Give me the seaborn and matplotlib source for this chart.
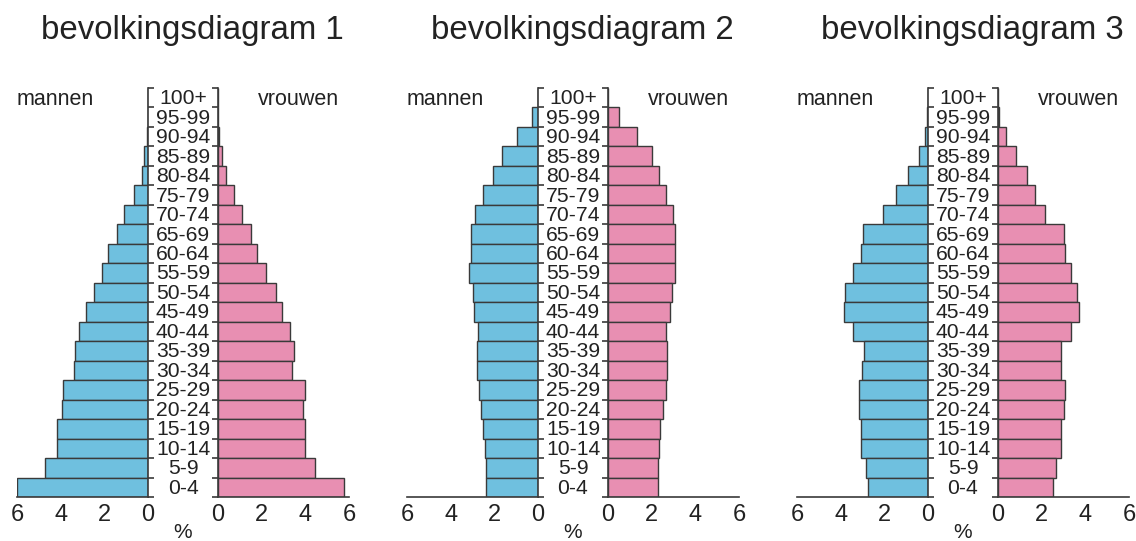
import numpy as np
import pandas as pd
import matplotlib
matplotlib.use("Agg")
import matplotlib.pyplot as plt
import matplotlib.transforms as mtransforms
import seaborn as sns

# age groups, top to bottom
ages = ["100+", "95-99", "90-94", "85-89", "80-84", "75-79", "70-74", "65-69",
        "60-64", "55-59", "50-54", "45-49", "40-44", "35-39", "30-34", "25-29",
        "20-24", "15-19", "10-14", "5-9", "0-4"]

# % of population per diagram
men_1 = [0, 0, 0.03, 0.17, 0.29, 0.66, 1.1, 1.42, 1.82, 2.1, 2.46, 2.82, 3.15,
         3.33, 3.39, 3.88, 3.94, 4.15, 4.15, 4.7, 5.98]
women_1 = [0, 0, 0.05, 0.17, 0.35, 0.75, 1.12, 1.5, 1.8, 2.18, 2.66, 2.94, 3.29,
           3.49, 3.4, 3.97, 3.88, 3.97, 3.97, 4.45, 5.78]
men_2 = [0, 0.26, 0.98, 1.63, 2.05, 2.51, 2.89, 3.08, 3.08, 3.18, 2.98, 2.91,
         2.77, 2.8, 2.8, 2.72, 2.63, 2.52, 2.45, 2.37, 2.37]
women_2 = [0, 0.49, 1.32, 2.03, 2.35, 2.66, 2.98, 3.09, 3.06, 3.09, 2.91, 2.82,
           2.66, 2.72, 2.71, 2.66, 2.52, 2.38, 2.32, 2.28, 2.28]
men_3 = [0, 0.05, 0.15, 0.43, 0.91, 1.45, 2.05, 2.97, 3.09, 3.45, 3.78, 3.83,
         3.42, 2.92, 3.03, 3.18, 3.18, 3.08, 3.08, 2.83, 2.74]
women_3 = [0, 0.03, 0.35, 0.81, 1.33, 1.7, 2.15, 3.0, 3.07, 3.33, 3.62, 3.71,
           3.36, 2.88, 2.88, 3.08, 3.02, 2.88, 2.88, 2.64, 2.51]

titles = ["bevolkingsdiagram 1", "bevolkingsdiagram 2", "bevolkingsdiagram 3"]
men = [men_1, men_2, men_3]
women = [women_1, women_2, women_3]

blue = "#6fc0df"
pink = "#e88fb2"
edge = "#3a3a3a"

sns.set_style("white")
plt.rcParams['font.family'] = ['Liberation Sans', 'DejaVu Sans']

W, H = 1136, 541
fig = plt.figure(figsize=(W / 100, H / 100), dpi=100)


def px_axes(x0, y_top, w, h):
    return fig.add_axes([x0 / W, (H - y_top - h) / H, w / W, h / H])


def style_axis(ax, side):
    ax.set_xlim(0, 6)
    ax.set_ylim(len(ages) - 0.5, -0.5)
    ax.set_xticks([0, 2, 4, 6])
    ax.set_yticks(np.arange(-0.5, len(ages), 1))
    ax.set_yticklabels([])
    ax.set_xlabel("")
    ax.set_ylabel("")
    for s in ax.spines.values():
        s.set_visible(False)
    ax.spines["bottom"].set_visible(True)
    ax.spines["bottom"].set_color(edge)
    ax.spines["bottom"].set_linewidth(1.2)
    if side == "left":
        ax.invert_xaxis()
        ax.spines["right"].set_visible(True)
        ax.spines["right"].set_color(edge)
        ax.spines["right"].set_linewidth(1.2)
        ax.yaxis.tick_right()
    else:
        ax.spines["left"].set_visible(True)
        ax.spines["left"].set_color(edge)
        ax.spines["left"].set_linewidth(1.2)
        ax.yaxis.tick_left()
    ax.tick_params(axis="y", direction="out", length=4, width=1.2, color=edge)
    ax.tick_params(axis="x", direction="out", length=4, width=1.2, color=edge,
                   labelsize=17, labelcolor="#222222", pad=1)
    ax.patch.set_alpha(0)


for k in range(3):
    off = 390 * k
    ax_m = px_axes(17 + off, 88, 131, 409)
    ax_v = px_axes(218 + off, 88, 131, 409)

    df = pd.DataFrame({"leeftijd": ages, "mannen": men[k], "vrouwen": women[k]})
    sns.barplot(data=df, x="mannen", y="leeftijd", order=ages, orient="h",
                color=blue, edgecolor=edge, linewidth=1, width=1, ax=ax_m,
                saturation=1)
    sns.barplot(data=df, x="vrouwen", y="leeftijd", order=ages, orient="h",
                color=pink, edgecolor=edge, linewidth=1, width=1, ax=ax_v,
                saturation=1)
    style_axis(ax_m, "left")
    style_axis(ax_v, "right")

    # age labels centred in the gap
    trans = mtransforms.blended_transform_factory(ax_m.transAxes, ax_m.transData)
    gap_mid = 1 + 35 / 131
    for i, a in enumerate(ages):
        ax_m.text(gap_mid, i + 0.05, a, transform=trans, ha="center", va="center",
                  fontsize=15.2, color="#222222")

    ax_m.text(0.0, 0.1, "mannen", transform=trans, ha="left", va="center",
              fontsize=15.5, color="#222222")
    trans_v = mtransforms.blended_transform_factory(ax_v.transAxes, ax_v.transData)
    ax_v.text(0.925, 0.1, "vrouwen", transform=trans_v, ha="right", va="center",
              fontsize=15.5, color="#222222")

    fig.text((183 + off) / W, 1 - 533 / H, "%", ha="center", va="center",
             fontsize=15, color="#222222")
    fig.text((192 + off) / W, 1 - 31 / H, titles[k], ha="center", va="center",
             fontsize=23.8, color="#222222")

fig.savefig("out.png", dpi=100, facecolor="white")
